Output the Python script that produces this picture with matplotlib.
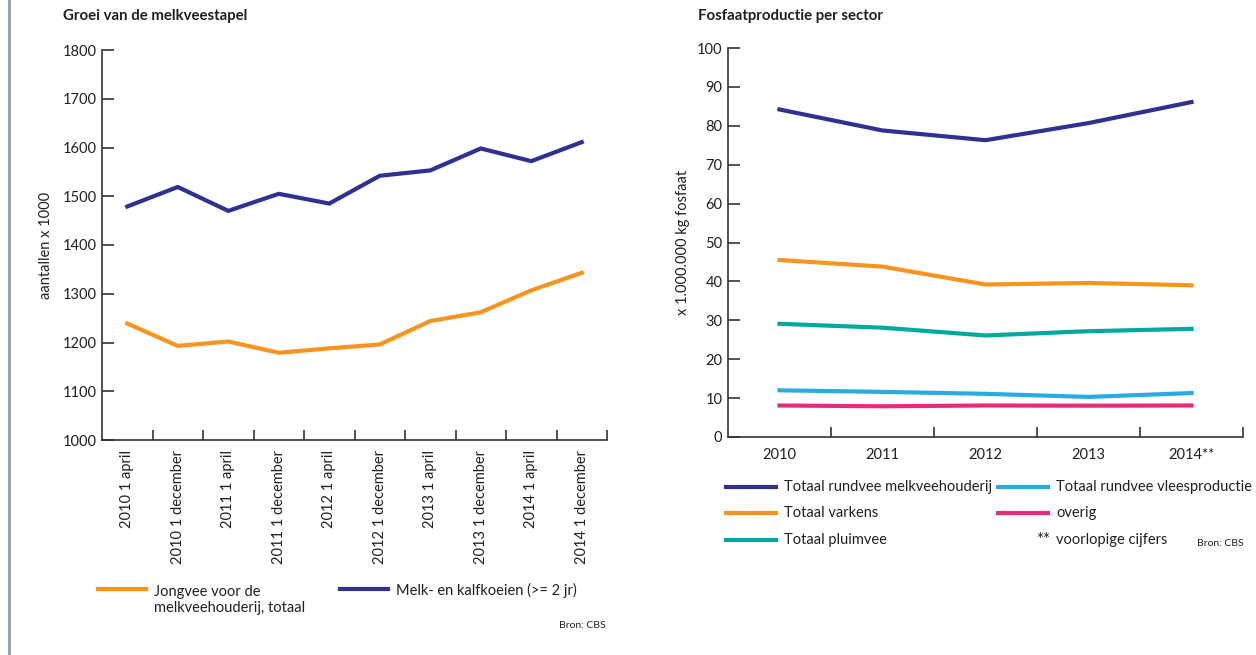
import matplotlib
matplotlib.use("Agg")
import matplotlib.pyplot as plt
from matplotlib.lines import Line2D

plt.rcParams['font.family'] = ['Lato', 'DejaVu Sans']

# left chart: melkveestapel (x 1000)
peildata = ["2010 1 april", "2010 1 december", "2011 1 april", "2011 1 december",
            "2012 1 april", "2012 1 december", "2013 1 april", "2013 1 december",
            "2014 1 april", "2014 1 december"]
melkkoeien = [1479, 1519, 1470, 1505, 1485, 1542, 1553, 1598, 1572, 1611]
jongvee = [1239, 1193, 1202, 1179, 1188, 1196, 1244, 1262, 1307, 1343]

# right chart: fosfaatproductie (x 1.000.000 kg)
jaren = ["2010", "2011", "2012", "2013", "2014**"]
rundvee_melk = [84.2, 78.8, 76.3, 80.7, 86.1]
varkens = [45.5, 43.8, 39.2, 39.6, 39.0]
pluimvee = [29.1, 28.1, 26.1, 27.2, 27.8]
rundvee_vlees = [12.0, 11.6, 11.1, 10.3, 11.3]
overig = [8.1, 7.9, 8.1, 8.05, 8.1]

BLUE = "#2e3192"
ORANGE = "#f7941d"
TEAL = "#00a99d"
LIGHTBLUE = "#29abe2"
PINK = "#ec297b"
AXC = "#333333"
TXT = "#231f20"
FS = 10.5

W, H = 1256, 655
fig = plt.figure(figsize=(W / 100, H / 100), dpi=100)


def fx(x):
    return x / W


def fy(y):
    return 1 - y / H


def style_axes(ax):
    for s in ["top", "right"]:
        ax.spines[s].set_visible(False)
    for s in ["left", "bottom"]:
        ax.spines[s].set_color(AXC)
        ax.spines[s].set_linewidth(1.2)
    ax.tick_params(axis="y", direction="in", length=8.5, width=1.2, color=AXC,
                   labelsize=FS, pad=4, labelcolor=TXT)
    ax.tick_params(axis="x", which="major", direction="in", length=7, width=1.2,
                   color=AXC)
    ax.tick_params(axis="x", which="minor", length=0, labelcolor=TXT)


# ---- left
ax1 = fig.add_axes([fx(102), fy(440), fx(607) - fx(102), fy(50) - fy(440)])
x1 = range(len(peildata))
ax1.plot(x1, jongvee, color=ORANGE, lw=3, solid_joinstyle="miter")
ax1.plot(x1, melkkoeien, color=BLUE, lw=3, solid_joinstyle="miter")
ax1.set_xlim(-0.5, len(peildata) - 0.5)
ax1.set_ylim(1000, 1800)
ax1.set_yticks(range(1000, 1801, 100))
ax1.set_xticks([i + 0.5 for i in range(len(peildata))])
ax1.set_xticklabels([])
ax1.set_xticks(list(x1), minor=True)
ax1.set_xticklabels(peildata, minor=True, rotation=90, va="top", fontsize=FS)
ax1.tick_params(axis="x", which="minor", pad=7)
style_axes(ax1)
ax1.set_ylabel("aantallen x 1000", fontsize=FS, labelpad=7, color=TXT)

# ---- right
ax2 = fig.add_axes([fx(728), fy(437), fx(1243) - fx(728), fy(48) - fy(437)])
x2 = range(len(jaren))
ax2.plot(x2, rundvee_melk, color=BLUE, lw=3)
ax2.plot(x2, varkens, color=ORANGE, lw=3)
ax2.plot(x2, pluimvee, color=TEAL, lw=3)
ax2.plot(x2, rundvee_vlees, color=LIGHTBLUE, lw=3)
ax2.plot(x2, overig, color=PINK, lw=3)
ax2.set_xlim(-0.5, len(jaren) - 0.5)
ax2.set_ylim(0, 100)
ax2.set_yticks(range(0, 101, 10))
ax2.set_xticks([i + 0.5 for i in range(len(jaren))])
ax2.set_xticklabels([])
ax2.set_xticks(list(x2), minor=True)
ax2.set_xticklabels(jaren, minor=True, fontsize=FS)
ax2.tick_params(axis="x", which="minor", pad=8)
style_axes(ax2)
ax2.set_ylabel("x 1.000.000 kg fosfaat", fontsize=FS, labelpad=5, color=TXT)

# titles
fig.text(fx(63), fy(16), "Groei van de melkveestapel", fontsize=10.8,
         fontweight="bold", va="center", color=TXT)
fig.text(fx(698), fy(16), "Fosfaatproductie per sector", fontsize=10.8,
         fontweight="bold", va="center", color=TXT)


def legend_item(x0, y, color, label):
    fig.add_artist(Line2D([fx(x0), fx(x0 + 50)], [fy(y), fy(y)], color=color,
                          lw=3, transform=fig.transFigure))
    fig.text(fx(x0 + 58), fy(y), label, fontsize=FS, va="center", color=TXT)


# left legend
fig.add_artist(Line2D([fx(98), fx(146)], [fy(589), fy(589)], color=ORANGE,
                      lw=3, transform=fig.transFigure))
fig.text(fx(154), fy(600), "Jongvee voor de\nmelkveehouderij, totaal",
         fontsize=FS, va="center", linespacing=1.25, color=TXT)
fig.add_artist(Line2D([fx(340), fx(388)], [fy(589), fy(589)], color=BLUE,
                      lw=3, transform=fig.transFigure))
fig.text(fx(396), fy(590), "Melk- en kalfkoeien (>= 2 jr)", fontsize=FS,
         va="center", color=TXT)
fig.text(fx(606), fy(625), "Bron: CBS", fontsize=7.5, ha="right", va="center",
         color=TXT)

# right legend
legend_item(726, 487, BLUE, "Totaal rundvee melkveehouderij")
legend_item(726, 513, ORANGE, "Totaal varkens")
legend_item(726, 540, TEAL, "Totaal pluimvee")
legend_item(998, 487, LIGHTBLUE, "Totaal rundvee vleesproductie")
legend_item(998, 513, PINK, "overig")
fig.text(fx(1050), fy(540), "**", fontsize=12, ha="right", va="center",
         color=TXT)
fig.text(fx(1056), fy(540), "voorlopige cijfers", fontsize=FS, va="center",
         color=TXT)
fig.text(fx(1244), fy(543), "Bron: CBS", fontsize=7.5, ha="right", va="center",
         color=TXT)

# grey page margin line
fig.add_artist(Line2D([fx(9), fx(9)], [0, 1], color="#8e9ca6", lw=2,
                      transform=fig.transFigure))

fig.savefig("out.png", dpi=100)
